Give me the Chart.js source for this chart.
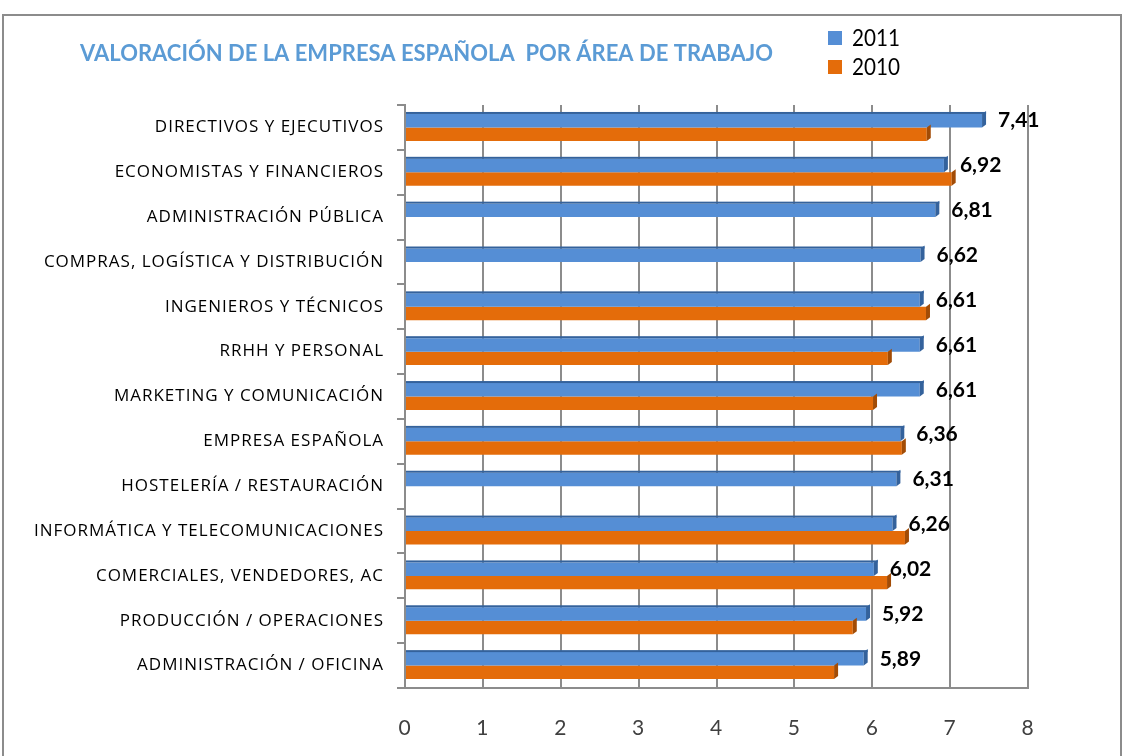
<!DOCTYPE html>
<html>
<head>
<meta charset="utf-8">
<script src="https://cdn.jsdelivr.net/npm/chart.js@4.4.1/dist/chart.umd.min.js"></script>
<style>
  html, body { margin: 0; padding: 0; background: #fff; }
  #wrap { width: 1125px; height: 756px; }
</style>
</head>
<body>
<div id="wrap"><canvas id="chart" width="1125" height="756"></canvas></div>
<script>
const categories = [
    'DIRECTIVOS Y EJECUTIVOS',
    'ECONOMISTAS Y FINANCIEROS',
    'ADMINISTRACIÓN PÚBLICA',
    'COMPRAS, LOGÍSTICA Y DISTRIBUCIÓN',
    'INGENIEROS Y TÉCNICOS',
    'RRHH Y PERSONAL',
    'MARKETING Y COMUNICACIÓN',
    'EMPRESA ESPAÑOLA',
    'HOSTELERÍA / RESTAURACIÓN',
    'INFORMÁTICA Y TELECOMUNICACIONES',
    'COMERCIALES, VENDEDORES, AC',
    'PRODUCCIÓN / OPERACIONES',
    'ADMINISTRACIÓN / OFICINA'
];
const values2011 = [7.41, 6.92, 6.81, 6.62, 6.61, 6.61, 6.61, 6.36, 6.31, 6.26, 6.02, 5.92, 5.89];
const values2010 = [6.70, 7.02, null, null, 6.69, 6.20, 6.01, 6.38, null, 6.42, 6.19, 5.75, 5.51];
const xTickLabels = ['0', '1', '2', '3', '4', '5', '6', '7', '8'];
const seriesNames = ['2011', '2010'];
const chartTitle = 'VALORACIÓN DE LA EMPRESA ESPAÑOLA  POR ÁREA DE TRABAJO';

const blue = '#558ed5';
const orange = '#e46c0a';
const blueDark = '#34629c';
const orangeDark = '#a24c06';

// frame, title and the stacked legend at the top
const decorations = {
    id: 'decorations',
    beforeDraw(chart) {
        const ctx = chart.ctx;
        ctx.save();
        ctx.fillStyle = '#fff';
        ctx.fillRect(0, 0, chart.width, chart.height);
        ctx.strokeStyle = '#8c8c8c';
        ctx.lineWidth = 2;
        ctx.strokeRect(3, 15, 1118, 760);
        ctx.restore();
        // the category labels are spaced out a bit in the original
        ctx.letterSpacing = '1px';
    },
    afterDraw(chart) {
        const ctx = chart.ctx;
        ctx.letterSpacing = '0px';
        ctx.save();
        ctx.font = 'bold 22px Lato';
        ctx.fillStyle = '#5b9bd5';
        ctx.textBaseline = 'middle';
        ctx.fillText(chartTitle, 80, 54, 693);

        const colors = [blue, orange];
        ctx.font = '23px Lato';
        seriesNames.forEach((name, i) => {
            const y = 38 + i * 29;
            ctx.fillStyle = colors[i];
            ctx.fillRect(828, y - 7, 14, 14);
            ctx.fillStyle = '#000';
            ctx.fillText(name, 852, y + 1, 48);
        });
        ctx.restore();
    }
};

// darker top edge and end cap to mimic the 3D bars, plus 2011 value labels
const barDepth = {
    id: 'barDepth',
    afterDatasetsDraw(chart) {
        const ctx = chart.ctx;
        ctx.save();
        ctx.letterSpacing = '0px';
        chart.data.datasets.forEach((ds, di) => {
            const meta = chart.getDatasetMeta(di);
            meta.data.forEach((bar, i) => {
                if (ds.data[i] == null) return;
                const top = bar.y - bar.height / 2;
                const bottom = bar.y + bar.height / 2;
                ctx.fillStyle = di === 0 ? blueDark : orangeDark;
                ctx.beginPath();
                ctx.moveTo(bar.x, top);
                ctx.lineTo(bar.x + 4, top - 3);
                ctx.lineTo(bar.x + 4, bottom - 3);
                ctx.lineTo(bar.x, bottom);
                ctx.closePath();
                ctx.fill();
                if (di === 0) {
                    ctx.fillRect(bar.base, top - 2, bar.x - bar.base + 4, 2);
                }
            });
        });

        const meta = chart.getDatasetMeta(0);
        ctx.font = 'bold 21px Lato';
        ctx.fillStyle = '#000';
        ctx.textBaseline = 'middle';
        meta.data.forEach((bar, i) => {
            const label = values2011[i].toFixed(2).replace('.', ',');
            ctx.fillText(label, bar.x + 16, bar.y);
        });
        ctx.restore();
    }
};

new Chart(document.getElementById('chart'), {
    type: 'bar',
    data: {
        labels: categories,
        datasets: [
            {
                label: seriesNames[0],
                data: values2011,
                backgroundColor: blue
            },
            {
                label: seriesNames[1],
                data: values2010,
                backgroundColor: orange
            }
        ]
    },
    options: {
        indexAxis: 'y',
        responsive: false,
        animation: false,
        categoryPercentage: 0.6,
        barPercentage: 1,
        layout: {
            padding: { top: 105, right: 97, left: 0, bottom: 0 }
        },
        scales: {
            x: {
                min: 0,
                max: 8,
                afterFit: s => { s.height = 68; },
                grid: {
                    color: '#8c8c8c',
                    lineWidth: 2,
                    drawTicks: false
                },
                border: { display: true, color: '#8c8c8c', width: 2 },
                ticks: {
                    stepSize: 1,
                    padding: 28,
                    color: '#404040',
                    font: { family: 'Lato', size: 21 },
                    callback: (v) => xTickLabels[v]
                }
            },
            y: {
                afterFit: s => { s.width = 405; },
                grid: {
                    drawOnChartArea: false,
                    color: '#8c8c8c',
                    lineWidth: 2,
                    tickLength: 8
                },
                border: { display: true, color: '#8c8c8c', width: 2 },
                ticks: {
                    padding: 13,
                    color: '#000',
                    font: { family: 'Open Sans', size: 17 }
                }
            }
        },
        plugins: {
            legend: { display: false },
            title: { display: false },
            tooltip: { enabled: false }
        }
    },
    plugins: [decorations, barDepth]
});
</script>
</body>
</html>
